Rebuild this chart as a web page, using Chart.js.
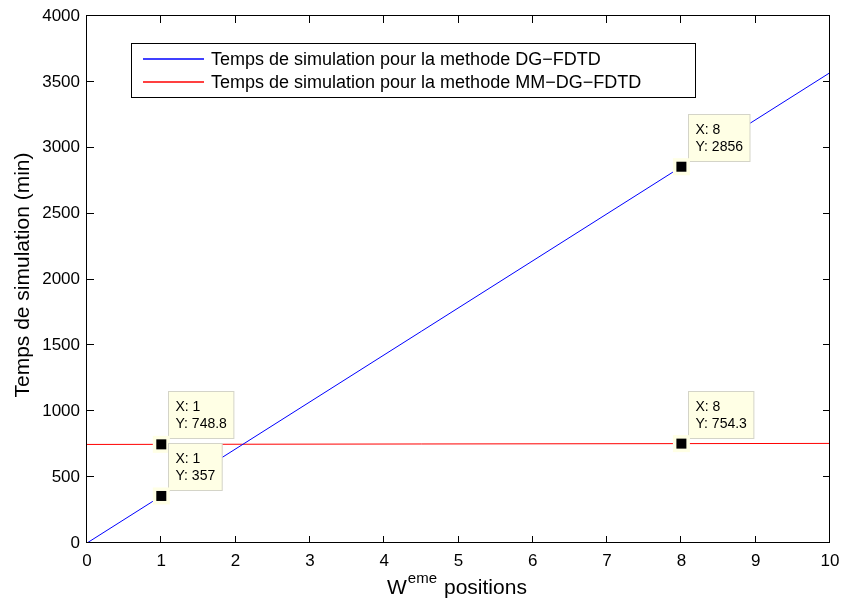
<!DOCTYPE html>
<html>
<head>
<meta charset="utf-8">
<script src="https://cdn.jsdelivr.net/npm/chart.js@4"></script>
<style>
  html, body { margin: 0; padding: 0; background: #fff; }
  #wrap { width: 842px; height: 603px; }
</style>
</head>
<body>
<div id="wrap"><canvas id="chart_simulation" width="842" height="603"></canvas></div>
<script>
// données
const posDG = [0, 1, 8, 10];
const tempsDG = [0, 357, 2856, 3570];
const posMM = [0, 1, 8, 10];
const tempsMM = [748, 748.8, 754.3, 755.9];

// datatips (x des points marqués)
const tipPos = [1, 8];

const labelDG = "Temps de simulation pour la methode DG\u2212FDTD";
const labelMM = "Temps de simulation pour la methode MM\u2212DG\u2212FDTD";
const xTicks = [0, 1, 2, 3, 4, 5, 6, 7, 8, 9, 10];
const yTicks = [0, 500, 1000, 1500, 2000, 2500, 3000, 3500, 4000];

const BLUE = "#0000ff";
const RED = "#ff0000";
const FONT = "'Liberation Sans', Arial, Helvetica, sans-serif";

function toPoints(xs, ys) {
    return xs.map((x, i) => ({ x: x, y: ys[i] }));
}

function pick(xs, ys, keep) {
    return xs.map((x, i) => ({ x: x, y: ys[i] })).filter(p => keep.includes(p.x));
}

// ordre de dessin des datatips : rouge d'abord, bleu ensuite
const tipsMM = pick(posMM, tempsMM, tipPos);
const tipsDG = pick(posDG, tempsDG, tipPos);

const legendItems = [
    { label: labelDG, color: BLUE },
    { label: labelMM, color: RED }
];

const matlabPlugin = {
    id: "matlabPlugin",
    beforeDraw(chart) {
        const ctx = chart.ctx;
        ctx.save();
        ctx.fillStyle = "#fff";
        ctx.fillRect(0, 0, chart.width, chart.height);
        ctx.restore();
    },
    afterDatasetsDraw(chart) {
        const ctx = chart.ctx;
        const a = chart.chartArea;
        const xs = chart.scales.x, ys = chart.scales.y;

        // cadre + graduations vers l'intérieur
        ctx.save();
        ctx.strokeStyle = "#000";
        ctx.lineWidth = 1;
        ctx.strokeRect(a.left - 0.5, a.top - 0.5, a.right - a.left, a.bottom - a.top);
        ctx.beginPath();
        xTicks.forEach(v => {
            const px = Math.round(xs.getPixelForValue(v)) - 0.5;
            ctx.moveTo(px, a.bottom); ctx.lineTo(px, a.bottom - 7);
            ctx.moveTo(px, a.top); ctx.lineTo(px, a.top + 7);
        });
        yTicks.forEach(v => {
            const py = Math.round(ys.getPixelForValue(v)) - 0.5;
            ctx.moveTo(a.left, py); ctx.lineTo(a.left + 7, py);
            ctx.moveTo(a.right, py); ctx.lineTo(a.right - 7, py);
        });
        ctx.stroke();
        ctx.restore();

        // datatips
        const drawTip = (p) => {
            const mx = xs.getPixelForValue(p.x);
            const my = ys.getPixelForValue(p.y);
            ctx.save();
            ctx.font = "14px " + FONT;
            const l1 = "X: " + p.x, l2 = "Y: " + p.y;
            const w = Math.max(ctx.measureText(l1).width, ctx.measureText(l2).width) + 14;
            const h = 47;
            const bx = Math.round(mx + 7) + 0.5, by = Math.round(my - 6 - h) + 0.5;
            ctx.fillStyle = "#ffffe5";
            ctx.strokeStyle = "#d4d4c8";
            ctx.lineWidth = 1;
            ctx.fillRect(bx, by, w, h);
            ctx.strokeRect(bx, by, w, h);
            ctx.fillStyle = "#000";
            ctx.textBaseline = "middle";
            ctx.fillText(l1, bx + 7, by + 16);
            ctx.fillText(l2, bx + 7, by + 33);
            // marqueur
            ctx.fillStyle = "#ffffe5";
            ctx.fillRect(mx - 8.5, my - 8.5, 17, 17);
            ctx.fillStyle = "#000";
            ctx.fillRect(mx - 5, my - 5, 10, 10);
            ctx.restore();
        };
        tipsMM.forEach(drawTip);
        tipsDG.slice().reverse().forEach(drawTip);

        // légende
        ctx.save();
        const lx = 131.5, ly = 43.5, lw = 564, lh = 54;
        ctx.fillStyle = "#fff";
        ctx.fillRect(lx, ly, lw, lh);
        ctx.strokeStyle = "#000";
        ctx.lineWidth = 1;
        ctx.strokeRect(lx, ly, lw, lh);
        ctx.font = "18px " + FONT;
        ctx.textBaseline = "middle";
        legendItems.forEach((it, i) => {
            const yy = 59 + i * 23;
            ctx.strokeStyle = it.color;
            ctx.lineWidth = 1.3;
            ctx.beginPath();
            ctx.moveTo(143, yy); ctx.lineTo(204, yy);
            ctx.stroke();
            ctx.fillStyle = "#000";
            ctx.fillText(it.label, 211, yy + 1);
        });
        ctx.restore();

        // titres des axes
        ctx.save();
        ctx.fillStyle = "#000";
        ctx.font = "21px " + FONT;
        ctx.textAlign = "center";
        ctx.textBaseline = "middle";
        ctx.translate(23, 275);
        ctx.rotate(-Math.PI / 2);
        ctx.fillText("Temps de simulation (min)", 0, 0);
        ctx.restore();

        ctx.save();
        ctx.fillStyle = "#000";
        ctx.textBaseline = "alphabetic";
        const t1 = "W", t2 = "eme", t3 = "positions";
        const base = 594;
        let x0 = 387;
        ctx.font = "21px " + FONT;
        ctx.fillText(t1, x0, base);
        x0 += ctx.measureText(t1).width + 1;
        ctx.font = "15px " + FONT;
        ctx.fillText(t2, x0, base - 11);
        x0 += ctx.measureText(t2).width + 7;
        ctx.font = "21px " + FONT;
        ctx.fillText(t3, x0, base);
        ctx.restore();
    }
};

const ctx = document.getElementById("chart_simulation").getContext("2d");
new Chart(ctx, {
    type: "scatter",
    data: {
        datasets: [
            {
                label: labelDG,
                data: toPoints(posDG, tempsDG),
                showLine: true,
                borderColor: BLUE,
                borderWidth: 1,
                pointRadius: 0,
                fill: false,
                tension: 0
            },
            {
                label: labelMM,
                data: toPoints(posMM, tempsMM),
                showLine: true,
                borderColor: RED,
                borderWidth: 1,
                pointRadius: 0,
                fill: false,
                tension: 0
            }
        ]
    },
    options: {
        responsive: false,
        animation: false,
        devicePixelRatio: 1,
        layout: { padding: { top: 16, right: 12, bottom: 0, left: 0 } },
        plugins: {
            legend: { display: false },
            tooltip: { enabled: false },
            title: { display: false }
        },
        scales: {
            x: {
                type: "linear",
                min: 0, max: 10,
                grid: { display: false, drawTicks: false },
                border: { display: false },
                afterFit: s => { s.height = 60; s.paddingLeft = 0; s.paddingRight = 0; },
                afterBuildTicks: s => { s.ticks = xTicks.map(v => ({ value: v })); },
                ticks: {
                    padding: 8,
                    color: "#000",
                    maxRotation: 0,
                    autoSkip: false,
                    font: { family: FONT, size: 17 }
                }
            },
            y: {
                type: "linear",
                min: 0, max: 4000,
                grid: { display: false, drawTicks: false },
                border: { display: false },
                afterFit: s => { s.width = 87; s.paddingTop = 0; s.paddingBottom = 0; },
                afterBuildTicks: s => { s.ticks = yTicks.map(v => ({ value: v })); },
                ticks: {
                    padding: 7,
                    color: "#000",
                    autoSkip: false,
                    font: { family: FONT, size: 17 },
                    callback: v => String(v)
                }
            }
        }
    },
    plugins: [matlabPlugin]
});
</script>
</body>
</html>
